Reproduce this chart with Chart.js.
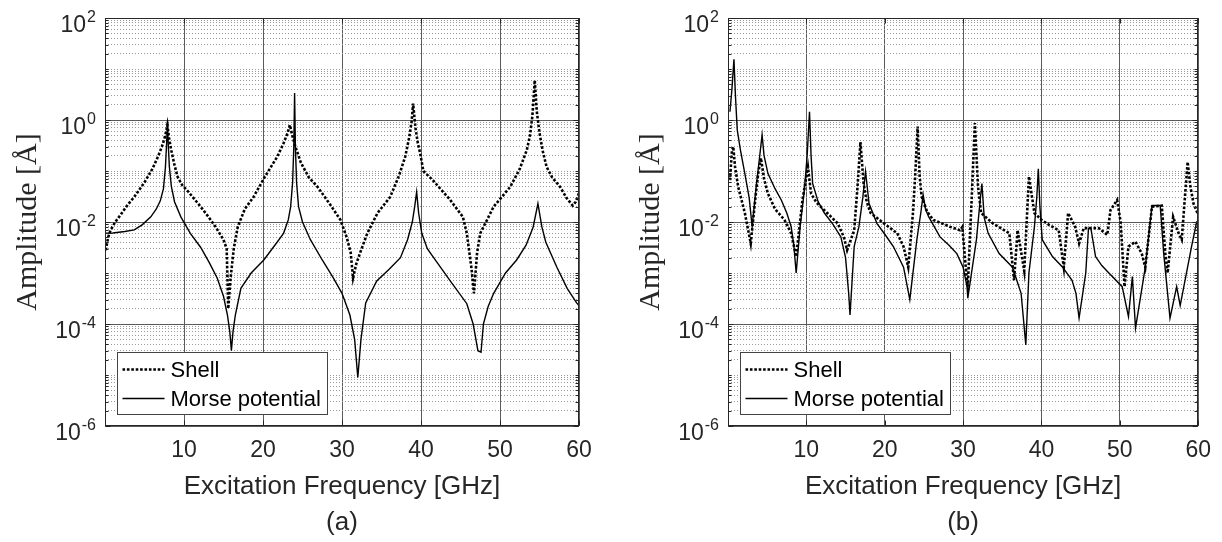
<!DOCTYPE html>
<html>
<head>
<meta charset="utf-8">
<script src="https://cdn.jsdelivr.net/npm/chart.js@4.4.1/dist/chart.umd.min.js"></script>
<style>
  html, body { margin: 0; padding: 0; background: #fff; }
  .panel { position: absolute; top: 0; width: 611px; height: 542px; }
</style>
</head>
<body>
<div class="panel" style="left:0"><canvas id="chartA"></canvas></div>
<div class="panel" style="left:611px"><canvas id="chartB"></canvas></div>
<script>
// ---- panel (a) ----
const freqShellA = [
  0.1, 0.4, 0.7, 1.3, 2, 2.8, 3.7, 5, 6, 6.7,
  7.2, 7.5, 7.75, 7.9, 8.1, 8.4, 8.8, 9.2, 9.8, 10.5,
  12.1, 13.2, 14, 15, 15.4, 15.6, 15.9, 16.3, 16.8, 17.7,
  18.8, 20.3, 21.8, 22.6, 23.1, 23.4, 23.7, 24.1, 24.8, 25.8,
  26.9, 28.5, 29.8, 30.6, 31.1, 31.4, 31.8, 32.3, 33.2, 34.5,
  36.1, 37.2, 38, 38.5, 38.8, 39.0, 39.3, 39.6, 39.9, 40.3,
  41.5, 43.7, 45.3, 45.8, 46.4, 46.7, 47.1, 47.5, 49.2, 51.3,
  52.5, 53.4, 53.8, 54.1, 54.4, 54.65, 55, 55.4, 55.9, 56.6,
  57.6, 58.4, 59.2, 59.6, 60];
const ampShellA = [
  2.8e-3, 5e-3, 6.9e-3, 0.01, 0.014, 0.021, 0.031, 0.06, 0.11, 0.19,
  0.3, 0.42, 0.6, 0.8, 0.45, 0.25, 0.13, 0.076, 0.052, 0.04,
  0.02, 0.012, 8e-3, 4.5e-3, 3e-3, 2e-4, 8e-4, 3e-3, 8e-3, 0.018,
  0.031, 0.08, 0.19, 0.35, 0.55, 0.8, 0.5, 0.3, 0.145, 0.075,
  0.049, 0.022, 0.011, 5e-3, 2.5e-3, 8e-4, 1.5e-3, 2.5e-3, 6e-3, 0.015,
  0.031, 0.08, 0.19, 0.45, 0.9, 2.1, 0.7, 0.35, 0.22, 0.1,
  0.066, 0.027, 0.0126, 6e-3, 1.2e-3, 4e-4, 2.5e-3, 6e-3, 0.02, 0.049,
  0.11, 0.26, 0.5, 1.2, 6, 1.5, 0.56, 0.25, 0.12, 0.075,
  0.049, 0.03, 0.021, 0.025, 0.037];

const freqMorseA = [
  0.1, 1, 2.5, 3.7, 4.7, 5.8, 6.5, 7.0, 7.4, 7.65,
  7.8, 7.9, 8.0, 8.15, 8.4, 8.8, 9.6, 10.8, 12.1, 13.2,
  14.2, 15.0, 15.5, 15.8, 16.0, 16.2, 16.5, 17.2, 18.5, 20.1,
  21.5, 22.6, 23.2, 23.5, 23.75, 23.9, 24.0, 24.1, 24.25, 24.5,
  25, 26, 27.5, 28.9, 30, 31, 31.6, 32.0, 32.4, 33,
  34.4, 36, 37.4, 38.3, 38.9, 39.2, 39.45, 39.7, 40.1, 40.8,
  41.6, 43.7, 45.8, 46.6, 47.0, 47.2, 47.6, 47.9, 48.5, 49.2,
  50.7, 52.1, 53.3, 54.2, 54.8, 55.3, 55.8, 57.2, 58.5, 59.7,
  60];
const ampMorseA = [
  6e-3, 6.1e-3, 6.5e-3, 7e-3, 8.8e-3, 0.0126, 0.018, 0.026, 0.045, 0.12,
  0.35, 0.87, 0.35, 0.12, 0.05, 0.025, 0.0126, 6e-3, 3.2e-3, 1.6e-3,
  8e-4, 3.5e-4, 1.5e-4, 7e-5, 3e-5, 7e-5, 1.5e-4, 5e-4, 1e-3, 1.8e-3,
  3.5e-3, 6e-3, 0.011, 0.02, 0.06, 0.3, 3.4, 0.3, 0.06, 0.02,
  0.01, 4.5e-3, 1.8e-3, 8e-4, 4e-4, 1.5e-4, 5e-5, 9e-6, 5e-5, 2.6e-4,
  7e-4, 1.2e-3, 2e-3, 4.5e-3, 0.01, 0.02, 0.039, 0.015, 6e-3, 3e-3,
  2e-3, 7e-4, 2.5e-4, 1e-4, 4.5e-5, 3e-5, 2.8e-5, 1e-4, 2.2e-4, 4e-4,
  1e-3, 1.8e-3, 3.5e-3, 8e-3, 0.023, 8e-3, 4e-3, 1.3e-3, 5e-4, 2.6e-4,
  2.3e-4];

// ---- panel (b) ----
const freqShellB = [
  0.25, 0.5, 0.67, 0.9, 1.3, 2.15, 2.9, 3.5, 3.85, 4.2,
  4.6, 5.1, 6.0, 7.2, 8.06, 8.7, 9.5, 10.2, 10.6, 11.3,
  12.3, 14.0, 14.8, 15.2, 16.1, 16.5, 16.9, 17.3, 17.7, 18.2,
  19.9, 21.6, 22.4, 23.0, 23.6, 23.9, 24.2, 24.45, 24.7, 25.4,
  26.2, 28.3, 29.6, 29.9, 30.4, 30.6, 31.1, 31.5, 31.9, 32.3,
  33.8, 35.9, 36.5, 36.95, 37.8, 38.4, 39.1, 40, 41.0, 42.2,
  42.85, 43.4, 44.3, 44.8, 45.4, 47.3, 48.4, 48.8, 49.65, 50.1,
  50.6, 51.1, 52.0, 52.8, 53.25, 54.1, 55.35, 55.8, 56.1, 56.8,
  57.5, 57.9, 58.3, 58.65, 59.0, 59.4, 60];
const ampShellB = [
  0.066, 0.25, 0.3, 0.12, 0.049, 0.015, 3.8e-3, 0.03, 0.089, 0.18,
  0.07, 0.036, 0.018, 0.011, 6e-3, 2.1e-3, 0.027, 0.12, 0.036, 0.024,
  0.017, 9.4e-3, 5e-3, 2.8e-3, 6.9e-3, 0.043, 0.37, 0.057, 0.025, 0.015,
  9.4e-3, 6e-3, 3.3e-3, 1.3e-3, 0.015, 0.089, 0.74, 0.08, 0.032, 0.016,
  0.011, 8.1e-3, 6.9e-3, 8e-3, 1e-3, 5.4e-4, 0.03, 0.87, 0.05, 0.015,
  9.4e-3, 6e-3, 7.2e-4, 6.9e-3, 1.1e-3, 0.078, 0.015, 0.011, 8.7e-3, 6.9e-3,
  1.3e-3, 0.015, 8.1e-3, 3.8e-3, 7.6e-3, 7.6e-3, 5.6e-3, 0.017, 0.027, 0.01,
  5.4e-4, 3.3e-3, 4.1e-3, 2.4e-3, 1.3e-3, 0.02, 0.021, 2.4e-3, 1e-3, 0.0126,
  6e-3, 4.5e-3, 0.03, 0.15, 0.05, 0.023, 0.0138];

const freqMorseB = [
  0.25, 0.5, 0.76, 0.95, 1.18, 1.6, 2.15, 2.7, 3.08, 3.6,
  4.0, 4.35, 4.6, 5.1, 6.0, 6.8, 7.5, 8.06, 8.4, 8.7,
  9.2, 9.75, 10.1, 10.4, 10.6, 10.8, 11.5, 12.3, 13.4, 14.4,
  15.0, 15.4, 15.57, 16.1, 16.7, 17.2, 17.55, 18.0, 19.0, 20.1,
  21.1, 22.4, 23.2, 24.1, 24.6, 24.9, 25.2, 25.6, 27.05, 28.2,
  29.2, 30.0, 30.5, 30.6, 31.7, 32.1, 32.4, 32.7, 33.2, 34.6,
  36.3, 37.4, 38.0, 38.4, 39.1, 39.4, 39.6, 39.8, 40.1, 41.4,
  42.7, 43.9, 44.4, 44.8, 45.65, 46.0, 46.3, 46.9, 47.7, 48.6,
  50.3, 51.1, 51.6, 52.0, 53.25, 54.1, 55.15, 55.6, 56.4, 57.25,
  57.7, 59.15, 59.8, 60];
const ampMorseB = [
  1.45, 4, 15.5, 3, 0.64, 0.25, 0.089, 0.03, 8.1e-3, 0.05,
  0.17, 0.51, 0.2, 0.089, 0.045, 0.027, 0.015, 8.1e-3, 3.5e-3, 1e-3,
  8e-3, 0.043, 0.2, 1.45, 0.2, 0.057, 0.025, 0.015, 9e-3, 5.1e-3,
  2e-3, 4e-4, 1.5e-4, 3.3e-3, 8e-3, 0.03, 0.098, 0.023, 9.4e-3, 5.5e-3,
  3.3e-3, 1.3e-3, 3e-4, 4.5e-3, 0.015, 0.034, 0.018, 0.0127, 5.1e-3, 3.5e-3,
  2.4e-3, 1.3e-3, 5.4e-4, 3.2e-4, 4.5e-3, 0.02, 0.057, 0.012, 6e-3, 2.4e-3,
  1.3e-3, 4e-4, 3.9e-5, 1e-3, 8e-3, 0.03, 0.11, 0.02, 4.5e-3, 2.1e-3,
  1.3e-3, 7.2e-4, 4e-4, 1.3e-4, 1e-3, 7.6e-3, 7.6e-3, 2.1e-3, 1.4e-3, 1e-3,
  5.4e-4, 1.4e-4, 8.5e-4, 8.3e-5, 1.3e-3, 0.021, 0.021, 2.4e-3, 1.3e-4, 5.4e-4,
  2.3e-4, 3.3e-3, 0.01, 0.01];

// axis labels
const seriesNames = ['Shell', 'Morse potential'];
const xTickValues = [10, 20, 30, 40, 50, 60];
const yTickValues = [1e2, 1e0, 1e-2, 1e-4, 1e-6];
const yTickExps = ['2', '0', '-2', '-4', '-6'];

const ink = '#262626';
const sans = "'Liberation Sans', Arial, sans-serif";

// grid lines at every 1..9 x 10^k
const yGridValues = [];
for (let k = -6; k < 2; k++) {
  for (let m = 1; m < 10; m++) yGridValues.push(m * Math.pow(10, k));
}
yGridValues.push(100);

const isMajor = (v) => {
  if (!v) return false;
  const e = Math.log10(v);
  const r = Math.round(e);
  return Math.abs(e - r) < 1e-6 && r % 2 === 0;
};

const toPoints = (xs, ys) => xs.map((x, i) => ({ x: x, y: ys[i] }));

// frame, inner tick marks, superscript y labels and the boxed legend
const axisDecor = {
  id: 'axisDecor',
  afterDraw(chart) {
    const ctx = chart.ctx;
    const a = chart.chartArea;
    const ys = chart.scales.y;
    const xs = chart.scales.x;
    const L = Math.round(a.left) + 0.5, R = Math.round(a.right) - 0.5;
    const T = Math.round(a.top) + 0.5, B = Math.round(a.bottom) - 0.5;
    ctx.save();
    ctx.strokeStyle = ink;
    ctx.lineWidth = 1;
    ctx.beginPath();
    yGridValues.forEach((v) => {
      const py = Math.round(ys.getPixelForValue(v)) + 0.5;
      const len = isMajor(v) ? 5 : 3;
      ctx.moveTo(L, py); ctx.lineTo(L + len, py);
      ctx.moveTo(R, py); ctx.lineTo(R - len, py);
    });
    xTickValues.forEach((v) => {
      const px = Math.round(xs.getPixelForValue(v)) + 0.5;
      ctx.moveTo(px, B); ctx.lineTo(px, B - 5);
      ctx.moveTo(px, T); ctx.lineTo(px, T + 5);
    });
    ctx.stroke();
    ctx.strokeRect(L, T, R - L, B - T);

    // y labels 10^n
    ctx.fillStyle = ink;
    ctx.textAlign = 'right';
    ctx.textBaseline = 'alphabetic';
    yTickValues.forEach((v, i) => {
      const py = ys.getPixelForValue(v);
      const rx = a.left - 9;
      ctx.font = '16px ' + sans;
      const ew = ctx.measureText(yTickExps[i]).width;
      ctx.fillText(yTickExps[i], rx, py + 4);
      ctx.font = '23px ' + sans;
      ctx.fillText('10', rx - ew - 1, py + 14);
    });

    // legend
    const bx = Math.round(a.left) + 12.5, by = Math.round(a.top) + 334.5;
    const bw = 210, bh = 62;
    ctx.fillStyle = '#fff';
    ctx.fillRect(bx, by, bw, bh);
    ctx.strokeStyle = '#444';
    ctx.strokeRect(bx, by, bw, bh);
    const rows = [17, 46];
    chart.data.datasets.forEach((ds, i) => {
      const cy = by + rows[i];
      ctx.strokeStyle = ds.borderColor;
      ctx.lineWidth = ds.borderWidth;
      ctx.setLineDash(ds.borderDash || []);
      ctx.beginPath();
      ctx.moveTo(bx + 5, cy);
      ctx.lineTo(bx + 47, cy);
      ctx.stroke();
      ctx.setLineDash([]);
      ctx.fillStyle = '#000';
      ctx.font = '22px ' + sans;
      ctx.textAlign = 'left';
      ctx.textBaseline = 'middle';
      ctx.fillText(ds.label, bx + 53, cy + 1);
    });
    ctx.restore();
  }
};

function makeChart(canvasId, tag, shell, morse, plotLeft, padRight) {
  const yTitleFont = 30;
  new Chart(document.getElementById(canvasId), {
    type: 'line',
    data: {
      datasets: [
        {
          label: seriesNames[0],
          data: toPoints(shell[0], shell[1]),
          borderColor: '#000',
          borderWidth: 2.6,
          borderDash: [2.6, 1.8],
          pointRadius: 0,
          tension: 0,
          fill: false,
        },
        {
          label: seriesNames[1],
          data: toPoints(morse[0], morse[1]),
          borderColor: '#000',
          borderWidth: 1.4,
          pointRadius: 0,
          tension: 0,
          fill: false,
        },
      ],
    },
    options: {
      responsive: true,
      maintainAspectRatio: false,
      animation: false,
      layout: { padding: { top: 18, right: padRight, bottom: 0, left: 0 } },
      plugins: { legend: { display: false }, tooltip: { enabled: false } },
      scales: {
        x: {
          type: 'linear',
          min: 0,
          max: 60,
          ticks: {
            stepSize: 10,
            padding: 11,
            color: ink,
            font: { family: sans, size: 23 },
            callback: (v) => (v === 0 ? '' : v),
          },
          grid: { drawTicks: false, color: '#5a5a5a', lineWidth: 1 },
          border: { display: false },
          title: {
            display: true,
            text: ['Excitation Frequency [GHz]', tag],
            color: ink,
            font: { family: sans, size: 26, lineHeight: '36px' },
            padding: { top: 0, bottom: 1 },
          },
          afterFit: (scale) => { scale.height = 116; },
        },
        y: {
          type: 'logarithmic',
          min: 1e-6,
          max: 1e2,
          ticks: { display: false },
          afterBuildTicks: (scale) => {
            scale.ticks = yGridValues.map((v) => ({ value: v }));
          },
          grid: {
            drawTicks: false,
            lineWidth: 1,
            color: (c) => (c.tick && isMajor(c.tick.value) ? '#5a5a5a' : '#9a9a9a'),
          },
          border: {
            display: false,
            dash: (c) => (c.tick && isMajor(c.tick.value) ? [] : [1, 2]),
          },
          title: {
            display: true,
            text: 'Amplitude [Å]',
            color: ink,
            font: { family: "'Liberation Serif', 'Times New Roman', serif", size: yTitleFont },
            padding: { top: plotLeft - 77 - yTitleFont * 0.6, bottom: 0 },
          },
          afterFit: (scale) => { scale.width = plotLeft; },
        },
      },
    },
    plugins: [axisDecor],
  });
}

makeChart('chartA', '(a)', [freqShellA, ampShellA], [freqMorseA, ampMorseA], 105, 32);
makeChart('chartB', '(b)', [freqShellB, ampShellB], [freqMorseB, ampMorseB], 117, 20);
</script>
</body>
</html>
